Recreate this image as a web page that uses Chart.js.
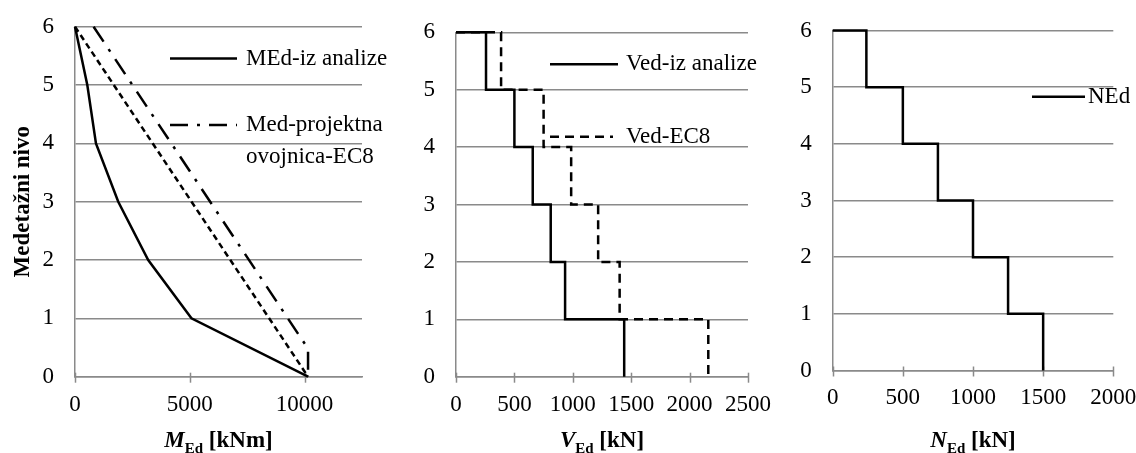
<!DOCTYPE html>
<html>
<head>
<meta charset="utf-8">
<script src="https://cdn.jsdelivr.net/npm/chart.js@4.4.1/dist/chart.umd.min.js"></script>
<style>
  html, body { margin: 0; padding: 0; background: #fff; }
  #wrap { position: relative; width: 1136px; height: 453px; overflow: hidden; background: #fff; }
  #wrap canvas { position: absolute; left: 0; top: 0; }
</style>
</head>
<body>
<div id="wrap">
  <canvas id="chartM" width="1136" height="453"></canvas>
  <canvas id="chartV" width="1136" height="453"></canvas>
  <canvas id="chartN" width="1136" height="453"></canvas>
</div>
<script>
// ---- data ----
// storey levels, top to base
const levels = [6, 5, 4, 3, 2, 1, 0];
// bending moment from the analysis at each level [kNm]
const momentAnalysis = [0, 536, 913, 1884, 3188, 5072, 10150];
// linear moment diagram between top and base [kNm]
const momentLinearLevels = [6, 0];
const momentLinear = [0, 10150];
// EC8 design envelope (linear diagram shifted up by the tension shift)
const momentEnvelopeLevels = [6, 0.48, 0];
const momentEnvelope = [810, 10150, 10150];

// storey segments, each from its top level down to the level below
const storeyTops = [6, 5, 4, 3, 2, 1];
const shearAnalysis = [257, 500, 657, 811, 934, 1440];   // [kN]
const shearEC8 = [386, 750, 986, 1217, 1401, 2160];      // [kN]
const axialForce = [240, 500, 750, 1000, 1250, 1500];    // [kN]

// tick labels
const levelTicks = [0, 1, 2, 3, 4, 5, 6];
const momentTicks = [0, 5000, 10000];
const shearTicks = [0, 500, 1000, 1500, 2000, 2500];
const axialTicks = [0, 500, 1000, 1500, 2000];

// ---- helpers ----
const SERIF = "'Liberation Serif', 'Times New Roman', serif";
const GRID = '#8a8a8a';
Chart.defaults.font.family = SERIF;
Chart.defaults.color = '#000';

function pairPoints(xs, ys) {
  return xs.map((x, i) => ({ x: x, y: ys[i] }));
}

// staircase for per-storey values: horizontal at each storey top, vertical down to the next level
function stepPoints(values) {
  const pts = [{ x: 0, y: storeyTops[0] }];
  values.forEach((v, i) => {
    pts.push({ x: v, y: storeyTops[i] });
    pts.push({ x: v, y: storeyTops[i] - 1 });
  });
  return pts;
}

function series(label, data, dash) {
  return {
    label: label,
    data: data,
    showLine: true,
    borderColor: '#000',
    backgroundColor: '#000',
    borderWidth: 2.5,
    borderDash: dash || [],
    borderCapStyle: 'butt',
    borderJoinStyle: 'miter',
    pointRadius: 0,
    tension: 0,
    clip: false
  };
}

// draws legend entries, axis titles and crossing tick marks on the value axis
const decor = {
  id: 'decor',
  beforeDatasetsDraw(chart, args, opts) {
    const ctx = chart.ctx;
    const xs = chart.scales.x;
    const y0 = chart.chartArea.bottom;
    ctx.save();
    ctx.strokeStyle = GRID;
    ctx.lineWidth = 1.5;
    xs.ticks.forEach(t => {
      const px = Math.round(xs.getPixelForValue(t.value)) + 0.5;
      ctx.beginPath();
      ctx.moveTo(px, y0 - 4);
      ctx.lineTo(px, y0 + 6);
      ctx.stroke();
    });
    ctx.restore();
  },
  afterDraw(chart, args, opts) {
    const ctx = chart.ctx;
    const area = chart.chartArea;
    ctx.save();
    // legend entries
    (opts.legend || []).forEach(item => {
      const ds = chart.data.datasets[item.ds];
      ctx.strokeStyle = ds.borderColor;
      ctx.lineWidth = ds.borderWidth;
      ctx.lineCap = 'butt';
      ctx.setLineDash(ds.borderDash || []);
      ctx.beginPath();
      ctx.moveTo(item.x1, item.y);
      ctx.lineTo(item.x2, item.y);
      ctx.stroke();
      ctx.setLineDash([]);
      ctx.fillStyle = '#000';
      ctx.font = '23px ' + SERIF;
      ctx.textAlign = 'left';
      ctx.textBaseline = 'middle';
      const lines = String(ds.label).split('\n');
      lines.forEach((ln, i) => ctx.fillText(ln, item.tx, item.y + i * 31.5));
    });
    // value axis title with subscript
    if (opts.xTitle) {
      const parts = opts.xTitle;
      let w = 0;
      parts.forEach(p => { ctx.font = p.font + ' ' + SERIF; p.w = ctx.measureText(p.t).width; w += p.w; });
      let x = (area.left + area.right) / 2 - w / 2;
      ctx.textAlign = 'left';
      ctx.textBaseline = 'alphabetic';
      ctx.fillStyle = '#000';
      parts.forEach(p => {
        ctx.font = p.font + ' ' + SERIF;
        ctx.fillText(p.t, x, opts.xTitleY + (p.dy || 0));
        x += p.w;
      });
    }
    // level axis title
    if (opts.yTitle) {
      ctx.translate(opts.yTitleX, (area.top + area.bottom) / 2);
      ctx.rotate(-Math.PI / 2);
      ctx.font = 'bold 23px ' + SERIF;
      ctx.textAlign = 'center';
      ctx.textBaseline = 'middle';
      ctx.fillStyle = '#000';
      ctx.fillText(opts.yTitle, 0, 0);
    }
    ctx.restore();
  }
};

const Y_W = 60, X_H = 50, W = 1136, H = 453;

function makeChart(id, box, xMax, xTicks, datasets, decorOpts) {
  return new Chart(document.getElementById(id), {
    type: 'scatter',
    data: { datasets: datasets },
    plugins: [decor],
    options: {
      responsive: false,
      animation: false,
      events: [],
      devicePixelRatio: 1,
      layout: {
        padding: { left: box.l - Y_W, top: box.t, right: W - box.r, bottom: H - box.b - X_H }
      },
      plugins: { legend: { display: false }, tooltip: { enabled: false }, decor: decorOpts },
      scales: {
        x: {
          type: 'linear',
          min: 0,
          max: xMax,
          afterBuildTicks: s => { s.ticks = xTicks.map(v => ({ value: v })); },
          afterFit: s => { s.height = X_H; s.paddingLeft = 0; s.paddingRight = 0; },
          grid: { display: false, drawTicks: false },
          border: { display: true, color: GRID, width: 1.5 },
          ticks: { font: { size: 23 }, padding: 14, maxRotation: 0, autoSkip: false, color: '#000',
                   callback: v => String(v) }
        },
        y: {
          type: 'linear',
          min: 0,
          max: 6,
          afterBuildTicks: s => { s.ticks = levelTicks.map(v => ({ value: v })); },
          afterFit: s => { s.width = Y_W; s.paddingTop = 0; s.paddingBottom = 0; },
          grid: { display: true, color: GRID, lineWidth: 1.5, drawTicks: false },
          border: { display: true, color: GRID, width: 1.5 },
          ticks: { font: { size: 23 }, padding: 21, color: '#000', callback: v => String(v) }
        }
      }
    }
  });
}

// bending moment
makeChart('chartM', { l: 75, t: 26.7, r: 362, b: 376.7 }, 12500, momentTicks, [
  series('MEd-iz analize', pairPoints(momentAnalysis, levels)),
  series('Med-linearno', pairPoints(momentLinear, momentLinearLevels), [6, 4]),
  series('Med-projektna\novojnica-EC8', pairPoints(momentEnvelope, momentEnvelopeLevels), [18, 9, 3, 9])
], {
  legend: [
    { ds: 0, x1: 170, x2: 237, y: 58.5, tx: 246 },
    { ds: 2, x1: 170, x2: 237, y: 125, tx: 246 }
  ],
  xTitle: [
    { t: 'M', font: 'italic bold 23px' },
    { t: 'Ed', font: 'bold 15px', dy: 6 },
    { t: ' [kNm]', font: 'bold 23px' }
  ],
  xTitleY: 447,
  yTitle: 'Medetažni nivo',
  yTitleX: 23
});

// shear force
makeChart('chartV', { l: 456, t: 32.3, r: 748, b: 376.7 }, 2500, shearTicks, [
  series('Ved-EC8', stepPoints(shearEC8), [9, 6]),
  series('Ved-iz analize', stepPoints(shearAnalysis))
], {
  legend: [
    { ds: 1, x1: 550, x2: 618, y: 64.3, tx: 626 },
    { ds: 0, x1: 550, x2: 613, y: 136.7, tx: 626 }
  ],
  xTitle: [
    { t: 'V', font: 'italic bold 23px' },
    { t: 'Ed', font: 'bold 15px', dy: 6 },
    { t: ' [kN]', font: 'bold 23px' }
  ],
  xTitleY: 447
});

// axial force
makeChart('chartN', { l: 832.7, t: 30.5, r: 1113.3, b: 370.5 }, 2000, axialTicks, [
  series('NEd', stepPoints(axialForce))
], {
  legend: [
    { ds: 0, x1: 1032, x2: 1085, y: 96.7, tx: 1088 }
  ],
  xTitle: [
    { t: 'N', font: 'italic bold 23px' },
    { t: 'Ed', font: 'bold 15px', dy: 6 },
    { t: ' [kN]', font: 'bold 23px' }
  ],
  xTitleY: 447
});
</script>
</body>
</html>
